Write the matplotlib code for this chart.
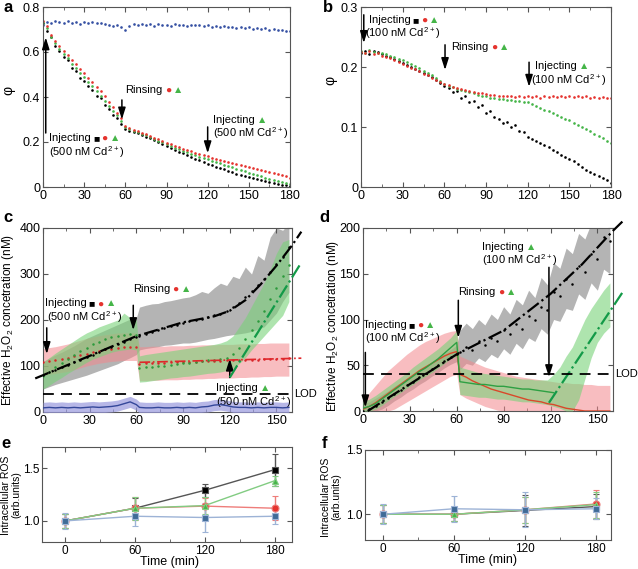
import numpy as np
import matplotlib.pyplot as plt
from matplotlib.ticker import MultipleLocator, FuncFormatter

plt.rcParams['font.family'] = ['Liberation Sans', 'DejaVu Sans']
plt.rcParams['mathtext.default'] = 'regular'

RED = '#e5332e'
GREEN = '#45b548'
BLUE = '#3550a3'
DARK = '#555555'

# ---- panel a : phi, 500 nM, sampled every 3 min ----
a_black = [0.73, 0.695, 0.665, 0.625, 0.605, 0.58, 0.565, 0.528, 0.515, 0.485,
           0.472, 0.448, 0.433, 0.405, 0.394, 0.365, 0.345, 0.318, 0.305, 0.278,
           0.26, 0.25, 0.245, 0.238, 0.232, 0.224, 0.218, 0.208, 0.2, 0.19,
           0.182, 0.174, 0.166, 0.157, 0.15, 0.141, 0.135, 0.125, 0.118, 0.11,
           0.104, 0.096, 0.09, 0.084, 0.079, 0.071, 0.066, 0.06, 0.055, 0.049,
           0.045, 0.04, 0.036, 0.031, 0.028, 0.022, 0.019, 0.014, 0.011, 0.008,
           0.006]
a_red = [0.74, 0.715, 0.675, 0.65, 0.625, 0.605, 0.585, 0.565, 0.545, 0.525,
         0.505, 0.485, 0.468, 0.445, 0.425, 0.405, 0.38, 0.355, 0.33, 0.305,
         0.27, 0.262, 0.255, 0.247, 0.24, 0.234, 0.227, 0.22, 0.212, 0.204,
         0.197, 0.19, 0.183, 0.176, 0.17, 0.164, 0.158, 0.152, 0.147, 0.141,
         0.136, 0.131, 0.126, 0.121, 0.116, 0.111, 0.107, 0.102, 0.098, 0.094,
         0.09, 0.085, 0.081, 0.077, 0.072, 0.068, 0.063, 0.058, 0.053, 0.047,
         0.04]
a_green = [0.73, 0.705, 0.668, 0.64, 0.612, 0.592, 0.572, 0.548, 0.527, 0.506,
           0.487, 0.466, 0.447, 0.428, 0.405, 0.384, 0.362, 0.34, 0.318, 0.295,
           0.265, 0.257, 0.25, 0.244, 0.236, 0.229, 0.222, 0.214, 0.206, 0.198,
           0.19, 0.182, 0.175, 0.168, 0.161, 0.154, 0.147, 0.141, 0.135, 0.129,
           0.124, 0.117, 0.111, 0.105, 0.099, 0.093, 0.087, 0.081, 0.075, 0.069,
           0.063, 0.057, 0.052, 0.047, 0.042, 0.037, 0.032, 0.027, 0.022, 0.017,
           0.013]
a_blue = [0.718, 0.735, 0.728, 0.738, 0.732, 0.727, 0.736, 0.73, 0.733, 0.726,
          0.734, 0.729, 0.735, 0.727, 0.731, 0.724, 0.72, 0.714, 0.722, 0.71,
          0.696, 0.716, 0.724, 0.72, 0.726, 0.719, 0.723, 0.717, 0.725, 0.72,
          0.722, 0.716, 0.724, 0.719, 0.721, 0.715, 0.722, 0.718, 0.72, 0.714,
          0.719, 0.713, 0.717, 0.71, 0.715, 0.709, 0.713, 0.707, 0.711, 0.705,
          0.709, 0.703, 0.707, 0.701, 0.705, 0.699, 0.703, 0.697, 0.7, 0.694,
          0.692]

# ---- panel b : phi, 100 nM, sampled every 3 min ----
b_black = [0.224, 0.226, 0.222, 0.227, 0.225, 0.221, 0.219, 0.216, 0.213, 0.21,
           0.206, 0.204, 0.2, 0.197, 0.193, 0.19, 0.186, 0.183, 0.178, 0.174,
           0.169, 0.165, 0.158, 0.16, 0.149, 0.152, 0.141, 0.143, 0.133, 0.136,
           0.124, 0.127, 0.117, 0.114, 0.106, 0.109, 0.1, 0.103, 0.094, 0.092,
           0.083, 0.08, 0.077, 0.073, 0.07, 0.066, 0.062, 0.058, 0.054, 0.05,
           0.047, 0.043, 0.038, 0.033, 0.029, 0.025, 0.021, 0.018, 0.015, 0.012,
           0.006]
b_red = [0.225, 0.224, 0.226, 0.222, 0.223, 0.219, 0.217, 0.215, 0.211, 0.208,
         0.205, 0.202, 0.199, 0.196, 0.193, 0.189, 0.186, 0.182, 0.178, 0.175,
         0.172, 0.17, 0.167, 0.165, 0.163, 0.162, 0.16, 0.158, 0.157, 0.156,
         0.155, 0.154, 0.153, 0.152, 0.152, 0.151, 0.151, 0.15, 0.151, 0.15,
         0.151, 0.15, 0.151, 0.149, 0.151, 0.15, 0.151, 0.15, 0.152, 0.15,
         0.151, 0.15, 0.152, 0.15, 0.151, 0.149, 0.15, 0.149, 0.15, 0.148,
         0.149]
b_green = [0.226, 0.223, 0.228, 0.225, 0.224, 0.223, 0.221, 0.219, 0.217, 0.214,
           0.212, 0.209, 0.205, 0.201, 0.198, 0.194, 0.19, 0.186, 0.181, 0.176,
           0.172, 0.169, 0.166, 0.164, 0.162, 0.16, 0.158, 0.156, 0.154, 0.152,
           0.151, 0.149, 0.148, 0.147, 0.146, 0.145, 0.145, 0.144, 0.143, 0.142,
           0.141, 0.138, 0.135, 0.132, 0.129, 0.126, 0.123, 0.12, 0.117, 0.114,
           0.111, 0.107, 0.104, 0.1, 0.097, 0.093, 0.089, 0.085, 0.081, 0.077,
           0.074]

# ---- panels c, d : sample times (min) ----
t_cd = [0, 4, 8, 12, 16, 20, 24, 28, 32, 36, 40, 44, 48, 52, 56, 60,
        62, 66, 70, 74, 78, 82, 86, 90, 94, 98, 102, 106, 110, 114, 118,
        122, 126, 130, 134, 138, 142, 146, 150, 154, 158]

# panel c (500 nM)
c_black = [80, 86, 92, 97, 103, 108, 114, 120, 125, 131, 137, 142, 148, 153, 158, 164,
           166, 170, 175, 178, 182, 186, 190, 194, 197, 200, 202, 206, 210, 214, 220,
           228, 238, 250, 263, 276, 290, 305, 322, 338, 358]
c_black_lo = [50, 55, 60, 64, 68, 72, 76, 80, 85, 90, 95, 100, 105, 112, 118, 125,
              135, 138, 140, 142, 145, 146, 148, 150, 150, 152, 155, 158, 160, 163, 166,
              168, 170, 172, 175, 180, 185, 200, 215, 240, 260]
c_black_hi = [110, 117, 124, 130, 137, 144, 152, 160, 166, 172, 178, 184, 190, 196, 202, 205,
              228, 232, 235, 236, 240, 242, 245, 248, 250, 255, 262, 258, 270, 280, 275,
              295, 290, 315, 300, 340, 330, 380, 400, 395, 410]
c_green = [78, 88, 98, 106, 115, 124, 132, 140, 147, 153, 158, 163, 166, 168, 170, 168,
           95, 97, 98, 100, 101, 103, 104, 106, 107, 109, 110, 112, 113, 115, 118,
           126, 140, 158, 178, 198, 220, 245, 270, 295, 320]
c_green_lo = [50, 58, 67, 75, 84, 92, 100, 108, 115, 120, 125, 130, 133, 135, 137, 135,
              65, 66, 68, 70, 72, 74, 75, 77, 78, 80, 82, 84, 85, 87, 90,
              95, 105, 118, 135, 150, 165, 180, 195, 210, 240]
c_green_hi = [108, 118, 128, 137, 146, 155, 164, 172, 178, 185, 190, 195, 200, 215, 205, 200,
              122, 125, 127, 129, 131, 133, 135, 137, 139, 141, 143, 145, 147, 150, 155,
              165, 185, 205, 230, 255, 280, 310, 345, 370, 375]
c_red = [108, 110, 112, 115, 118, 121, 124, 127, 130, 133, 136, 138, 140, 141, 142, 142,
         105, 106, 106, 107, 107, 108, 108, 108, 109, 109, 110, 110, 111, 111, 112,
         112, 113, 113, 114, 114, 115, 115, 116, 116, 117]
c_red_lo = [80, 82, 84, 86, 88, 92, 96, 100, 103, 106, 108, 110, 111, 112, 112, 112,
            68, 68, 69, 69, 70, 70, 70, 71, 71, 72, 72, 73, 73, 74, 74,
            74, 75, 75, 76, 76, 77, 77, 78, 78, 78]
c_red_hi = [138, 140, 142, 145, 148, 152, 156, 160, 163, 166, 168, 170, 172, 172, 172, 172,
            142, 142, 143, 143, 143, 144, 144, 144, 145, 145, 146, 146, 146, 147, 147,
            147, 148, 148, 148, 149, 149, 150, 150, 150, 150]
c_blue = [9, 10, 9, 10, 9, 10, 9, 10, 11, 10, 11, 12, 14, 18, 22, 16,
          10, 9, 9, 10, 9, 9, 10, 9, 10, 9, 11, 12, 15, 16, 14,
          11, 10, 10, 9, 10, 9, 10, 10, 9, 10]
c_blue_hw = 12
c_fit_black_t = [-5, 0, 30, 60, 90, 110, 120, 130, 140, 150, 160, 166]
c_fit_black_v = [73, 80, 122, 165, 195, 208, 220, 243, 278, 318, 362, 392]
c_fit_green_t = [120, 166]
c_fit_green_v = [75, 325]
c_fit_red_t = [62, 166]
c_fit_red_v = [108, 117]

# panel d (100 nM)
d_black = [0, 2, 6, 10, 14, 19, 23, 28, 32, 37, 41, 46, 50, 55, 59, 62,
           64, 70, 67, 76, 72, 80, 77, 88, 84, 95, 90, 104, 100, 114, 110,
           130, 126, 144, 139, 158, 152, 172, 166, 190, 186]
d_black_lo = [0, 0, 0, 2, 6, 11, 15, 20, 24, 29, 33, 38, 42, 47, 51, 54,
              45, 52, 50, 58, 54, 62, 58, 68, 62, 74, 68, 80, 76, 90, 84,
              100, 98, 112, 110, 128, 122, 140, 132, 155, 150]
d_black_hi = [8, 10, 14, 18, 22, 27, 31, 36, 40, 45, 49, 54, 58, 63, 67, 72,
              88, 96, 90, 100, 94, 106, 100, 114, 106, 122, 116, 132, 124, 146, 138,
              162, 156, 178, 172, 194, 188, 205, 200, 210, 210]
d_red = [2, 5, 9, 14, 19, 24, 29, 34, 39, 44, 48, 52, 56, 60, 63, 65,
         40, 37, 33, 30, 27, 24, 22, 20, 18, 16, 14, 12, 11, 10, 8,
         7, 5, 3, 2, 1, 0, 0, 0, 0, 0]
d_red_lo = [0, 0, 0, 0, 0, 2, 6, 10, 14, 18, 22, 26, 30, 34, 38, 40,
            18, 14, 11, 8, 5, 3, 1, 0, 0, 0, 0, 0, 0, 0, 0,
            0, 0, 0, 0, 0, 0, 0, 0, 0, 0]
d_red_hi = [10, 20, 28, 36, 44, 50, 56, 62, 67, 72, 76, 79, 82, 85, 87, 88,
            60, 57, 54, 51, 48, 46, 44, 42, 40, 38, 37, 36, 35, 34, 33,
            32, 31, 31, 30, 30, 29, 29, 28, 28, 28]
d_green = [3, 5, 8, 13, 18, 23, 28, 33, 38, 43, 47, 52, 57, 63, 69, 75,
           32, 31, 30, 29, 29, 28, 27, 27, 26, 25, 24, 24, 23, 22, 21,
           20, np.nan, np.nan, np.nan, np.nan, np.nan, np.nan, np.nan, np.nan, np.nan]
d_green_lo = [0, 0, 2, 6, 11, 16, 20, 25, 29, 34, 38, 42, 47, 52, 57, 60,
              18, 17, 16, 15, 15, 14, 13, 13, 12, 11, 10, 10, 9, 8, 7,
              5, 3, 0, 0, 12, 35, 58, 75, 85, 92]
d_green_hi = [10, 13, 17, 22, 27, 32, 37, 42, 48, 53, 58, 63, 68, 74, 80, 88,
              48, 46, 44, 42, 41, 40, 39, 38, 37, 36, 35, 35, 34, 34, 34,
              40, 48, 60, 70, 85, 100, 112, 122, 132, 140]
d_fit_black_t = [3, 60, 90, 120, 140, 160, 166]
d_fit_black_v = [0, 62, 88, 128, 160, 197, 207]
d_fit_green_t = [119, 167]
d_fit_green_v = [9, 132]
LOD = 40

# ---- panels e, f : intracellular ROS ----
ef_t = [0, 60, 120, 180]
e_black = [1.0, 1.12, 1.29, 1.485]
e_black_err = [0.07, 0.1, 0.06, 0.15]
e_red = [1.0, 1.12, 1.14, 1.12]
e_red_err = [0.07, 0.11, 0.08, 0.115]
e_green = [1.0, 1.12, 1.145, 1.38]
e_green_err = [0.07, 0.11, 0.08, 0.05]
e_blue = [1.0, 1.044, 1.032, 1.044]
e_blue_err = [0.075, 0.095, 0.135, 0.075]
f_black = [1.0, 1.0, 1.03, 1.06]
f_black_err = [0.07, 0.05, 0.12, 0.1]
f_red = [1.0, 1.0, 1.035, 1.08]
f_red_err = [0.07, 0.05, 0.1, 0.11]
f_green = [1.0, 1.0, 1.035, 1.075]
f_green_err = [0.07, 0.05, 0.1, 0.1]
f_blue = [1.0, 1.043, 1.035, 1.043]
f_blue_err = [0.077, 0.1, 0.135, 0.08]


fig = plt.figure(figsize=(6.38, 5.69), dpi=100)


def box(l, t, r, b):
    return [l / 638, 1 - b / 569, (r - l) / 638, (b - t) / 569]


def ftext(x, y, s, **kw):
    fig.text(x / 638, 1 - y / 569, s, ha='center', va='center', **kw)


def style(ax, xmaj, ymaj, fmt='%g', size=9):
    ax.xaxis.set_major_locator(MultipleLocator(xmaj))
    ax.xaxis.set_minor_locator(MultipleLocator(xmaj / 2))
    ax.yaxis.set_major_locator(MultipleLocator(ymaj))
    ax.yaxis.set_major_formatter(FuncFormatter(lambda v, p: fmt % v))
    ax.tick_params(which='both', direction='in', top=True, right=True,
                   color=DARK, labelsize=size, pad=2)
    ax.tick_params(which='major', length=3.5)
    ax.tick_params(which='minor', length=2)
    for s in ax.spines.values():
        s.set_color(DARK)
        s.set_linewidth(0.8)


def note(ax, x, y, s, marks=()):
    t = ax.text(x, y, s, fontsize=8, va='center', ha='left')
    for m, c in marks:
        t = ax.annotate(m, xy=(1, 0.5), xycoords=t, xytext=(1.5, 0),
                        textcoords='offset points', fontsize=7.5, color=c,
                        va='center', ha='left')


def arrow(ax, x, y0, y1):
    ax.annotate('', xy=(x, y1), xytext=(x, y0),
                arrowprops=dict(arrowstyle='-|>,head_length=0.7,head_width=0.22',
                                color='k', lw=1.1, shrinkA=0, shrinkB=0))


ALL3 = [('■', 'k'), ('●', RED), ('▲', GREEN)]
RG = [('●', RED), ('▲', GREEN)]
G = [('▲', GREEN)]

# ---------------- a ----------------
ax = fig.add_axes(box(43, 7, 290, 187))
ta = np.arange(len(a_black)) * 3
ax.plot(ta, a_black, 'o', ms=1.9, mew=0, color='k')
ax.plot(ta, a_green, 'o', ms=1.9, mew=0, color=GREEN)
ax.plot(ta, a_red, 'o', ms=1.9, mew=0, color=RED)
ax.plot(ta, a_blue, 'o', ms=1.9, mew=0, color=BLUE)
ax.set_xlim(0, 180)
ax.set_ylim(0, 0.8)
style(ax, 30, 0.2)
arrow(ax, 2, 0.24, 0.665)
arrow(ax, 57.5, 0.387, 0.30)
arrow(ax, 120, 0.267, 0.15)
note(ax, 4.5, 0.218, 'Injecting', ALL3)
note(ax, 4.5, 0.157, '(500 nM Cd$^{2+}$)')
note(ax, 60, 0.431, 'Rinsing', RG)
note(ax, 124, 0.298, 'Injecting', G)
note(ax, 124, 0.24, '(500 nM Cd$^{2+}$)')

# ---------------- b ----------------
ax = fig.add_axes(box(361, 7, 611, 187))
tb = np.arange(len(b_black)) * 3
ax.plot(tb, b_black, 'o', ms=1.9, mew=0, color='k')
ax.plot(tb, b_green, 'o', ms=1.9, mew=0, color=GREEN)
ax.plot(tb, b_red, 'o', ms=1.9, mew=0, color=RED)
ax.set_xlim(0, 180)
ax.set_ylim(0, 0.3)
style(ax, 30, 0.1)
arrow(ax, 2, 0.287, 0.24)
arrow(ax, 60.5, 0.237, 0.195)
arrow(ax, 121, 0.208, 0.167)
note(ax, 5.5, 0.278, 'Injecting', ALL3)
note(ax, 2.6, 0.256, '(100 nM Cd$^{2+}$)')
note(ax, 65, 0.233, 'Rinsing', RG)
note(ax, 125, 0.202, 'Injecting', G)
note(ax, 122.7, 0.178, '(100 nM Cd$^{2+}$)')

# ---------------- c ----------------
ax = fig.add_axes(box(43, 228, 292, 412))
ax.fill_between(t_cd, c_black_lo, c_black_hi, color='#b4b4b4', lw=0, zorder=1)
ax.fill_between(t_cd, c_red_lo, c_red_hi, color='#f3888d', alpha=0.55, lw=0, zorder=2)
ax.fill_between(t_cd, c_green_lo, c_green_hi, color='#79d279', alpha=0.6, lw=0, zorder=3)
cb = np.array(c_blue)
ax.fill_between(t_cd, cb - c_blue_hw, cb + c_blue_hw, color='#9999dd', alpha=0.7, lw=0, zorder=3)
ax.plot(t_cd, c_blue, color='#34479a', lw=1, zorder=4)
ax.plot(t_cd, c_red, 'o', ms=1.8, mew=0, color='#d8262a', zorder=4)
ax.plot(t_cd, c_green, 'o', ms=1.8, mew=0, color='#2c9a3c', zorder=4)
ax.plot(t_cd, c_black, 'o', ms=1.8, mew=0, color='k', zorder=4)
ax.plot(c_fit_black_t, c_fit_black_v, '-.', color='k', lw=1.6, clip_on=False, zorder=5)
ax.plot(c_fit_green_t, c_fit_green_v, '-.', color='#139a48', lw=1.6, clip_on=False, zorder=5)
ax.plot(c_fit_red_t, c_fit_red_v, '-.', color='#e0262a', lw=1.2, clip_on=False, zorder=5)
ax.axhline(LOD, color='k', ls=(0, (6, 4)), lw=1.3, zorder=5)
ax.text(1.01, LOD, 'LOD', transform=ax.get_yaxis_transform(), fontsize=8, va='center')
ax.set_xlim(0, 160)
ax.set_ylim(0, 400)
style(ax, 30, 100)
arrow(ax, 2.4, 183, 126)
arrow(ax, 58, 232, 178)
arrow(ax, 120, 75, 116)
note(ax, 1.3, 236, 'Injecting', ALL3)
note(ax, 2.4, 207, '(500 nM Cd$^{2+}$)')
note(ax, 57.8, 267, 'Rinsing', RG)
note(ax, 111, 53, 'Injecting', G)
note(ax, 111, 22, '(500 nM Cd$^{2+}$)')

# ---------------- d ----------------
ax = fig.add_axes(box(363, 228, 613, 411))
ax.fill_between(t_cd, d_black_lo, d_black_hi, color='#b4b4b4', lw=0, zorder=1)
ax.fill_between(t_cd, d_red_lo, d_red_hi, color='#f3888d', alpha=0.55, lw=0, zorder=2)
ax.fill_between(t_cd, d_green_lo, d_green_hi, color='#79d279', alpha=0.6, lw=0, zorder=3)
ax.plot(t_cd, d_red, color='#d9482a', lw=1, zorder=4)
ax.plot(t_cd, d_green, color='#2ea043', lw=1, zorder=4)
ax.plot(t_cd, d_black, 'o', ms=1.8, mew=0, color='k', zorder=4)
ax.plot(d_fit_black_t, d_fit_black_v, '-.', color='k', lw=1.6, clip_on=False, zorder=5)
ax.plot(d_fit_green_t, d_fit_green_v, '-.', color='#139a48', lw=1.6, clip_on=False, zorder=5)
ax.axhline(LOD, color='k', ls=(0, (6, 4)), lw=1.3, zorder=5)
ax.text(1.01, LOD, 'LOD', transform=ax.get_yaxis_transform(), fontsize=8, va='center')
ax.set_xlim(0, 160)
ax.set_ylim(0, 200)
style(ax, 30, 50)
arrow(ax, 1.5, 64, 4)
arrow(ax, 61, 121, 80)
arrow(ax, 119, 157, 37)
note(ax, 1.1, 94, 'Injecting', ALL3)
note(ax, 1.1, 80, '(100 nM Cd$^{2+}$)')
note(ax, 61, 130, 'Rinsing', RG)
note(ax, 76, 179.5, 'Injecting', G)
note(ax, 76, 165, '(100 nM Cd$^{2+}$)')


# ---------------- e, f ----------------
def ros(ax, series):
    for y, err, mk, mc, lc in series:
        ax.errorbar(ef_t, y, yerr=err, color=lc, marker=mk, mfc=mc, mec=lc,
                    ms=5, mew=0.8, capsize=2.5, elinewidth=1, lw=1)


ax = fig.add_axes(box(42, 447, 292, 542))
ros(ax, [(e_black, e_black_err, 's', 'k', '#555555'),
         (e_red, e_red_err, 'o', RED, '#ee7d7a'),
         (e_green, e_green_err, '^', GREEN, '#82cc82'),
         (e_blue, e_blue_err, 's', '#3f6b97', '#9db3d6')])
ax.set_xlim(-20, 195)
ax.set_ylim(0.8, 1.7)
style(ax, 60, 0.5, '%.1f', 8.5)

ax = fig.add_axes(box(365, 450, 611, 540))
ros(ax, [(f_black, f_black_err, 's', 'k', '#555555'),
         (f_red, f_red_err, 'o', RED, '#ee7d7a'),
         (f_green, f_green_err, '^', GREEN, '#82cc82'),
         (f_blue, f_blue_err, 's', '#3f6b97', '#9db3d6')])
ax.set_xlim(-15, 193)
ax.set_ylim(0.8, 1.5)
style(ax, 60, 0.5, '%.1f', 8.5)

# labels
for s, x, y in [('a', 8, 8), ('b', 328, 8), ('c', 8, 217), ('d', 324, 217),
                ('e', 6, 443), ('f', 324, 443)]:
    ftext(x, y, s, fontsize=12, fontweight='bold')
ftext(8, 90, 'φ', fontsize=10, rotation=90)
ftext(330, 80, 'φ', fontsize=10, rotation=90)
ftext(8, 320, 'Effective H$_2$O$_2$ concetration (nM)', fontsize=8.5, rotation=90)
ftext(333, 326, 'Effective H$_2$O$_2$ concetration (nM)', fontsize=8.5, rotation=90)
ftext(11, 495, 'Intracellular ROS\n(arb.units)', fontsize=7.5, rotation=90, linespacing=1.0)
ftext(331, 497, 'Intracellular ROS\n(arb.units)', fontsize=7.5, rotation=90, linespacing=1.0)
ftext(170, 562, 'Time (min)', fontsize=9)
ftext(488, 560, 'Time (min)', fontsize=9)

fig.savefig('out.png', dpi=100)
